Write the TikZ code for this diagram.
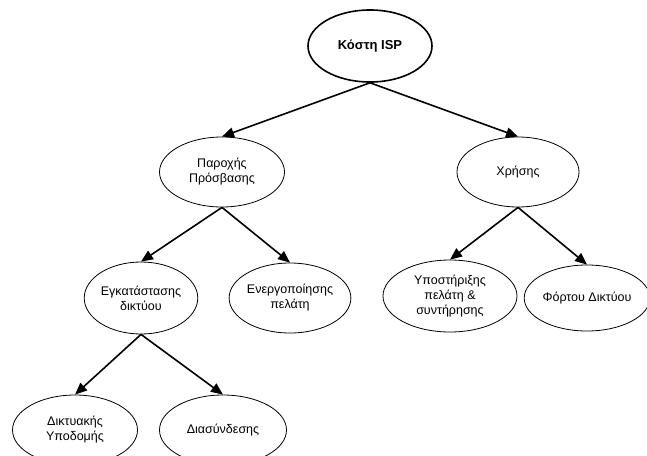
\documentclass[tikz,border=0pt]{standalone}
\usepackage{fontspec}
\setmainfont{Liberation Sans}
\usetikzlibrary{shapes.geometric, arrows.meta}
\begin{document}
\begin{tikzpicture}[x=1pt, y=-1pt]
    \tikzset{cost/.style={ellipse, draw, line width=0.8pt, inner sep=0pt,
            align=center, font=\fontsize{12.5}{15}\selectfont},
        link/.style={-{Triangle[length=12pt, width=10pt]}, line width=1.6pt}
    }
    \clip (0,0) rectangle (647,455);
    \node [cost, line width=1.6pt, font=\fontsize{13}{15}\selectfont\bfseries,
        minimum width=124pt, minimum height=72pt] (isp) at (370,46) {Κόστη ISP};
    % second level
    \foreach \name/\x/\w/\label in
        {access/222/125pt/{Παροχής\\Πρόσβασης}, usage/518/122pt/Χρήσης} {
        \node [cost, minimum width=\w, minimum height=70pt]
            (\name) at (\x,172) {\label};
        \draw [link] (isp.south) -- (\name.north);
    }
    % third level
    \foreach \parent/\name/\x/\y/\w/\h/\label in
        {access/install/141/298/112pt/72pt/{Εγκατάστασης\\δικτύου},
         access/activation/290/298/110pt/70pt/{Ενεργοποίησης\\πελάτη},
         usage/support/450/296/134pt/72pt/{Υποστήριξης\\πελάτη \&\\συντήρησης},
         usage/load/587/298/110pt/66pt/{Φόρτου Δικτύου}} {
        \node [cost, minimum width=\w, minimum height=\h]
            (\name) at (\x,\y) {\label};
        \draw [link] (\parent.south) -- (\name.north);
    }
    % fourth level
    \foreach \name/\x/\w/\label in
        {infra/75/125pt/{Δικτυακής\\Υποδομής}, interconn/223/127pt/Διασύνδεσης} {
        \node [cost, minimum width=\w, minimum height=70pt]
            (\name) at (\x,430) {\label};
        \draw [link] (install.south) -- (\name.north);
    }
\end{tikzpicture}
\end{document}
